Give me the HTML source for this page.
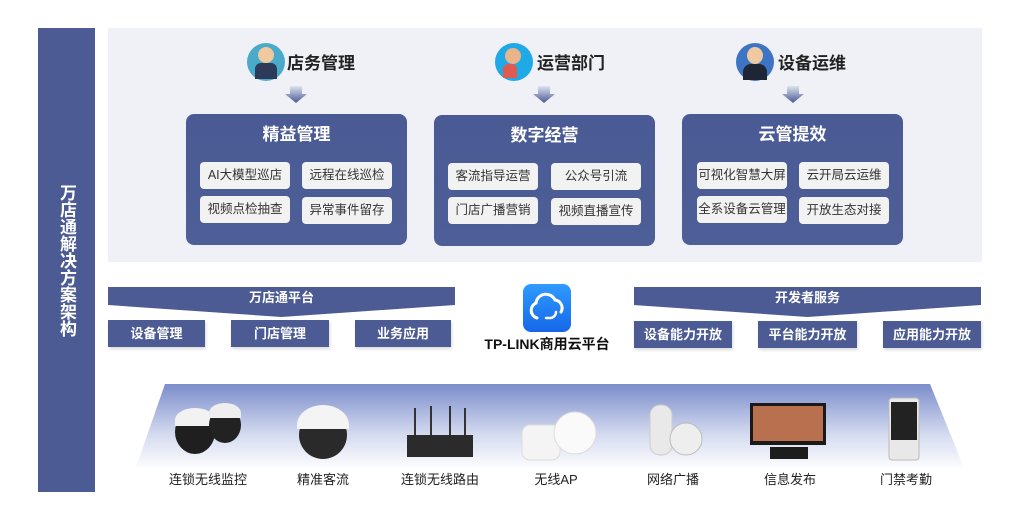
<!DOCTYPE html>
<html><head><meta charset="utf-8"><style>
*{margin:0;padding:0;box-sizing:border-box}
body{width:1024px;height:520px;background:#fff;position:relative;overflow:hidden;font-family:"Liberation Sans","Noto Sans CJK SC",sans-serif}
.a{position:absolute}
.side{left:38px;top:28px;width:57px;height:464px;background:#4c5b93;color:#fff;font-weight:bold;font-size:17px;display:flex;align-items:center;justify-content:center}
.side span{writing-mode:vertical-rl;letter-spacing:0px}
.panel{left:108px;top:28px;width:874px;height:234px;background:#eff1f6}
.role{font-size:17px;font-weight:bold;color:#222}
.ic{width:38px;height:38px;border-radius:50%}
.box{width:221px;height:131px;background:linear-gradient(#4a5a94,#4e5f98);border-radius:8px}
.box h3{color:#fff;font-size:17px;text-align:center;margin-top:6px}
.btn{position:absolute;width:90px;height:27px;background:#f2f2f3;border-radius:4px;font-size:12.5px;color:#333;text-align:center;line-height:27px;white-space:nowrap}
.ban{height:30px;color:#fff;font-size:13px;font-weight:bold;text-align:center;line-height:22px;background:#4c5b93;clip-path:polygon(0 0,100% 0,100% 60%,50% 100%,0 60%)}
.mb{height:27px;background:#4c5b93;color:#fff;font-size:13px;font-weight:bold;text-align:center;line-height:27px;box-shadow:1px 2px 3px rgba(0,0,0,.15)}
.lab{font-size:13px;color:#222;text-align:center;width:100px;top:469px}
</style></head><body>
<div class="a side"><span>万店通解决方案架构</span></div>
<div class="a panel"></div>

<div class="a ic" style="left:247px;top:43px;background:#4aaac9"></div>
<div class="a" style="left:258px;top:47px;width:16px;height:16px;border-radius:50%;background:#f0c9a0"></div>
<div class="a" style="left:255px;top:63px;width:22px;height:16px;background:#2d3a5a;border-radius:6px 6px 0 0"></div>
<div class="a role" style="left:287px;top:49px">店务管理</div>

<div class="a ic" style="left:495px;top:43px;background:#1fa9e6"></div>
<div class="a" style="left:505px;top:48px;width:16px;height:16px;border-radius:50%;background:#e9b48a"></div>
<div class="a" style="left:503px;top:64px;width:14px;height:14px;background:#e05a50;border-radius:5px 5px 0 0"></div>
<div class="a role" style="left:537px;top:49px">运营部门</div>

<div class="a ic" style="left:736px;top:43px;background:#3d74c4"></div>
<div class="a" style="left:747px;top:47px;width:16px;height:17px;border-radius:50%;background:#f0c9a0"></div>
<div class="a" style="left:743px;top:64px;width:24px;height:16px;background:#1e2636;border-radius:8px 8px 0 0"></div>
<div class="a role" style="left:778px;top:49px">设备运维</div>

<svg class="a" style="left:0;top:0" width="1024" height="520">
<defs>
<linearGradient id="ag" x1="0" y1="0" x2="0" y2="1"><stop offset="0" stop-color="#dfe3ef"/><stop offset="1" stop-color="#4a5a94"/></linearGradient>
<linearGradient id="bg" x1="0" y1="0" x2="0" y2="1"><stop offset="0" stop-color="#7b8dcb"/><stop offset="0.6" stop-color="#d6dcf0"/><stop offset="1" stop-color="#ffffff"/></linearGradient>
<linearGradient id="cg" x1="0" y1="0" x2="0" y2="1"><stop offset="0" stop-color="#2f9bff"/><stop offset="1" stop-color="#1667e8"/></linearGradient>
</defs>
<g fill="url(#ag)">
<polygon points="290,86 302,86 302,94 307,94 296,103 285,94 290,94"/>
<polygon points="538,86 550,86 550,94 555,94 544,103 533,94 538,94"/>
<polygon points="787,86 799,86 799,94 804,94 793,103 782,94 787,94"/>
</g>
<polygon points="165,384 930,384 965,470 135,470" fill="url(#bg)"/>
<rect x="523" y="284" width="48" height="48" rx="8" fill="url(#cg)"/>
<path d="M537,318 a8,8 0 0 1 -1,-15 a10,10 0 0 1 19,-3 a8,8 0 0 1 6,12" fill="none" stroke="#fff" stroke-width="3" stroke-linecap="round"/>
<path d="M546,318 h4 a6,6 0 0 0 6,-6" fill="none" stroke="#fff" stroke-width="2.5" stroke-linecap="round"/>
<g>
<ellipse cx="195" cy="432" rx="20" ry="22" fill="#1f1f1f"/><path d="M175,420 a20,12 0 0 1 40,0 v6 h-40z" fill="#f2f2f2"/>
<ellipse cx="225" cy="425" rx="16" ry="18" fill="#222"/><path d="M209,413 a16,10 0 0 1 32,0 v5 h-32z" fill="#eee"/>
<ellipse cx="323" cy="435" rx="24" ry="24" fill="#2a2a2a"/><path d="M297,425 a26,20 0 0 1 52,0 v4 h-52z" fill="#f4f4f4"/>
<rect x="407" y="435" width="66" height="22" fill="#2b2b2b"/>
<rect x="414" y="408" width="2" height="27" fill="#333"/><rect x="430" y="406" width="2" height="29" fill="#333"/><rect x="449" y="406" width="2" height="29" fill="#333"/><rect x="464" y="408" width="2" height="27" fill="#333"/>
<rect x="522" y="425" width="38" height="35" rx="8" fill="#f4f4f4" stroke="#ddd"/>
<circle cx="575" cy="433" r="21" fill="#fafafa" stroke="#ddd"/>
<rect x="650" y="405" width="22" height="50" rx="10" fill="#e9e9e9" stroke="#ccc"/>
<circle cx="686" cy="439" r="16" fill="#eee" stroke="#bbb"/>
<rect x="750" y="403" width="76" height="42" fill="#1a1a1a"/><rect x="753" y="406" width="70" height="35" fill="#b8704f"/>
<rect x="770" y="447" width="38" height="12" fill="#1d1d1d"/>
<rect x="889" y="398" width="30" height="62" rx="3" fill="#e8e8e8" stroke="#bbb"/><rect x="891" y="402" width="26" height="38" fill="#222"/>
</g>
</svg>

<div class="a box" style="left:186px;top:114px"><h3>精益管理</h3>
<div class="btn" style="left:14px;top:48px">AI大模型巡店</div><div class="btn" style="left:116px;top:48px">远程在线巡检</div>
<div class="btn" style="left:14px;top:82px">视频点检抽查</div><div class="btn" style="left:116px;top:83px">异常事件留存</div></div>
<div class="a box" style="left:434px;top:115px"><h3>数字经营</h3>
<div class="btn" style="left:14px;top:48px">客流指导运营</div><div class="btn" style="left:117px;top:48px">公众号引流</div>
<div class="btn" style="left:14px;top:82px">门店广播营销</div><div class="btn" style="left:117px;top:83px">视频直播宣传</div></div>
<div class="a box" style="left:682px;top:114px"><h3>云管提效</h3>
<div class="btn" style="left:15px;top:48px">可视化智慧大屏</div><div class="btn" style="left:117px;top:48px">云开局云运维</div>
<div class="btn" style="left:15px;top:82px">全系设备云管理</div><div class="btn" style="left:117px;top:83px">开放生态对接</div></div>

<div class="a ban" style="left:108px;top:287px;width:347px">万店通平台</div>
<div class="a mb" style="left:108px;top:320px;width:97px">设备管理</div>
<div class="a mb" style="left:231px;top:320px;width:98px">门店管理</div>
<div class="a mb" style="left:355px;top:320px;width:96px">业务应用</div>
<div class="a ban" style="left:634px;top:287px;width:347px">开发者服务</div>
<div class="a mb" style="left:634px;top:321px;width:98px">设备能力开放</div>
<div class="a mb" style="left:758px;top:321px;width:99px">平台能力开放</div>
<div class="a mb" style="left:883px;top:321px;width:98px">应用能力开放</div>
<div class="a" style="left:467px;top:334px;width:160px;text-align:center;font-size:14px;font-weight:bold;color:#111">TP-LINK商用云平台</div>

<div class="a lab" style="left:158px">连锁无线监控</div>
<div class="a lab" style="left:273px">精准客流</div>
<div class="a lab" style="left:390px">连锁无线路由</div>
<div class="a lab" style="left:506px">无线AP</div>
<div class="a lab" style="left:623px">网络广播</div>
<div class="a lab" style="left:740px">信息发布</div>
<div class="a lab" style="left:856px">门禁考勤</div>
</body></html>
